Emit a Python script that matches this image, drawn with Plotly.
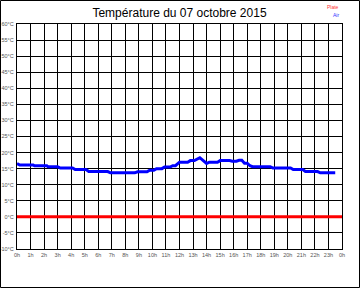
import plotly.graph_objects as go

hours = [0, 0.2, 1.2, 1.3, 2.2, 2.3, 3.0, 3.2, 4.1, 4.3, 5.1, 5.3, 6.7, 6.9, 8.7, 8.9,
         9.6, 9.8, 10.1, 10.3, 10.7, 10.9, 11.3, 11.5, 11.7, 11.9, 12.0, 12.6, 12.8, 13.1,
         13.5, 14.0, 14.2, 14.8, 15.0, 15.7, 15.9, 16.2, 16.4, 16.6, 16.8, 17.0, 17.2,
         17.4, 18.7, 18.9, 20.2, 20.4, 21.1, 21.3, 22.2, 22.4, 23.5]
air = [16.6, 16.1, 16.1, 15.9, 15.9, 15.6, 15.6, 15.2, 15.2, 14.7, 14.7, 14.1, 14.1, 13.7, 13.7, 14.0,
       14.0, 14.5, 14.5, 15.0, 15.0, 15.5, 15.5, 15.9, 15.9, 16.7, 17.0, 17.0, 17.5, 17.5,
       18.4, 16.6, 17.0, 17.0, 17.5, 17.5, 17.3, 17.3, 17.6, 17.6, 16.7, 16.7, 15.9,
       15.6, 15.6, 15.2, 15.2, 14.7, 14.7, 14.1, 14.1, 13.7, 13.7]
plate_hours = [0, 24]
plate = [0, 0]

x_ticks = list(range(25))
x_labels = [f"{h % 24}h" for h in x_ticks]
y_ticks = list(range(-10, 65, 5))
y_labels = [f"{v}°C" for v in y_ticks]

fig = go.Figure()
fig.add_trace(go.Scatter(x=plate_hours, y=plate, mode="lines",
                         line=dict(color="#ff0000", width=3), name="Plate"))
fig.add_trace(go.Scatter(x=hours, y=air, mode="lines",
                         line=dict(color="#0000ff", width=3), name="Air"))

L, R, T, B = 17, 18, 24, 39
W, H = 360, 288
pw, ph = W - L - R, H - T - B

axis_font = dict(family="Liberation Sans, Arial, sans-serif", size=5.5, color="#555555")
fig.update_layout(
    width=W, height=H,
    margin=dict(l=L, r=R, t=T, b=B, autoexpand=False),
    paper_bgcolor="white", plot_bgcolor="white",
    showlegend=False,
    title=dict(text="Température du 07 octobre 2015", x=0.5, xref="paper",
               y=1 - 13 / H, yanchor="middle",
               font=dict(family="Liberation Sans, Arial, sans-serif", size=12, color="black")),
    xaxis=dict(range=[0, 24], tickvals=x_ticks, ticktext=x_labels, showgrid=True,
               gridcolor="black", gridwidth=1.3, zeroline=False, showline=True,
               linecolor="black", linewidth=1.3, mirror=True, tickfont=axis_font,
               ticks="", fixedrange=True, automargin=False),
    yaxis=dict(range=[-10, 60], tickvals=y_ticks, ticktext=y_labels, showgrid=True,
               gridcolor="black", gridwidth=1.3, zeroline=False, showline=True,
               linecolor="black", linewidth=1.3, mirror=True, tickfont=axis_font,
               ticks="", ticklabelstandoff=1, fixedrange=True, automargin=False),
    annotations=[
        dict(text="Plate", x=(341 - L) / pw, y=(H - B - 7) / ph, xref="paper", yref="paper",
             xanchor="right", yanchor="middle", showarrow=False,
             font=dict(family="Liberation Sans, Arial, sans-serif", size=5, color="#ff3333")),
        dict(text="Air", x=(341 - L) / pw, y=(H - B - 15) / ph, xref="paper", yref="paper",
             xanchor="right", yanchor="middle", showarrow=False,
             font=dict(family="Liberation Sans, Arial, sans-serif", size=5, color="#3333ff")),
    ],
    shapes=[dict(type="rect", xref="paper", yref="paper",
                 x0=(0.5 - L) / pw, x1=(W - 0.5 - L) / pw,
                 y0=(H - B - (H - 0.5)) / ph, y1=(H - B - 0.5) / ph,
                 line=dict(color="black", width=1))],
)

fig.write_html("out.html", config={"displayModeBar": False})
